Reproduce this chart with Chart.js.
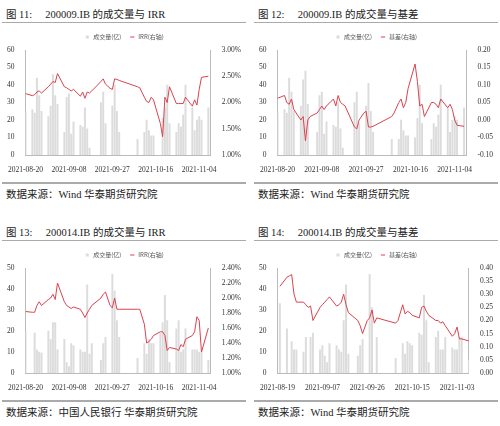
<!DOCTYPE html>
<html><head><meta charset="utf-8">
<script src="https://cdn.jsdelivr.net/npm/chart.js@4"></script>
<style>
body{margin:0;width:500px;height:426px;background:#fff;position:relative;font-family:"Liberation Serif","Noto Sans CJK SC",serif;overflow:hidden}
.cell{position:absolute;width:244px;height:205px}
.title{position:absolute;left:4px;top:6px;font-size:10.5px;color:#222;white-space:pre}
.rule1{position:absolute;left:0;right:0;top:22px;border-top:1.5px solid #aaa}
.rule2{position:absolute;left:0;right:0;top:182px;border-top:2px solid #aaa}
.src{position:absolute;left:4px;top:186px;font-size:10.5px;color:#222}
.cv{position:absolute;left:0;top:26px;width:244px;height:152px}
</style></head><body>
<div class="cell" style="left:2px;top:0"><div class="title">图 11:     200009.IB 的成交量与 IRR</div><div class="rule1"></div><div class="cv"><canvas id="c11"></canvas></div><div class="rule2"></div><div class="src">数据来源：Wind 华泰期货研究院</div></div>
<div class="cell" style="left:254px;top:0"><div class="title">图 12:     200009.IB 的成交量与基差</div><div class="rule1"></div><div class="cv"><canvas id="c12"></canvas></div><div class="rule2"></div><div class="src">数据来源：Wind 华泰期货研究院</div></div>
<div class="cell" style="left:2px;top:218px"><div class="title">图 13:     200014.IB 的成交量与 IRR</div><div class="rule1"></div><div class="cv"><canvas id="c13"></canvas></div><div class="rule2"></div><div class="src">数据来源：中国人民银行 华泰期货研究院</div></div>
<div class="cell" style="left:254px;top:218px"><div class="title">图 14:     200014.IB 的成交量与基差</div><div class="rule1"></div><div class="cv"><canvas id="c14"></canvas></div><div class="rule2"></div><div class="src">数据来源：Wind 华泰期货研究院</div></div>
<script>
// trading days (2021)
var dates = ['08-20','08-23','08-24','08-25','08-26','08-27','08-30','08-31','09-01','09-02','09-03',
  '09-06','09-07','09-08','09-09','09-10','09-13','09-14','09-15','09-16','09-17','09-18',
  '09-22','09-23','09-24','09-26','09-27','09-28','09-29','09-30',
  '10-08','10-09','10-11','10-12','10-13','10-14','10-15','10-18','10-19','10-20','10-21','10-22',
  '10-25','10-26','10-27','10-28','10-29','11-01','11-02','11-03','11-04','11-05','11-08'];

// 200009.IB volume (亿)
var vol09 = [24,26,24,44,34,25,22,28,46,34,29,
  13,33,35,12,19,17,16,27,15,4,null,
  30,36,18,null,28,40,25,13,
  9,null,13,20,14,11,11,null,21,27,40,18,
  13,18,16,23,40,27,14,20,22,20,27];
var irr11 = [2.17,2.13,2.15,2.2,2.22,2.18,2.3,2.35,2.4,2.38,2.55,
  2.3,2.28,2.25,2.22,2.25,2.12,2.2,2.08,2.2,2.18,2.22,
  2.4,2.45,2.35,2.27,2.25,2.45,2.44,2.42,
  2.3,2.28,2.1,2.02,2.0,2.1,2.05,1.6,1.35,2.1,2.0,2.3,
  1.98,1.98,1.98,1.98,2.1,1.93,2.05,1.95,2.25,2.48,2.5];
var vol09b = [24,26,24,44,36,25,28,43,48,29,null,
  13,34,36,12,19,17,16,30,15,4,null,
  30,36,18,null,28,41,25,13,
  9,null,9,20,14,11,11,10,21,40,18,null,
  9,18,16,23,40,27,13,20,22,20,27];
var basis12 = [0.062,0.07,0.05,0.045,0.06,0.03,0.0,0.01,-0.06,0.0,0.01,
  0.02,0.03,0.04,0.03,0.04,0.06,0.04,0.07,0.05,0.045,0.04,
  -0.02,-0.025,0.0,0.02,0.025,-0.02,-0.02,-0.018,
  0.01,0.02,0.05,0.06,0.035,0.05,0.09,0.16,0.11,0.04,0.045,0.01,
  0.05,0.05,0.045,0.035,0.06,0.035,0.045,0.03,0.0,-0.015,-0.018];

// 200014.IB volume (亿)
var vol14 = [20,null,19,11,10,9.5,20,16,24,24,11,
  16,5,3,14,13,11,10,10,42,9,14,
  6,14,17,null,47,39,25,17,
  7,null,14,9,16,14,14,19,24,37,25,5,
  21,25,10,11,21,11,11,11,10,10,6];
var irr13 = [1.82,1.81,1.81,1.9,1.95,1.9,1.98,2.0,2.05,1.98,2.2,
  1.95,1.9,1.88,1.86,1.88,1.85,1.8,1.74,1.8,1.85,1.9,
  2.0,2.05,2.08,1.9,1.87,2.0,1.85,1.85,
  1.85,1.85,1.65,1.4,1.42,1.45,1.5,1.55,1.55,1.5,1.3,1.34,
  1.32,1.3,1.38,1.35,1.45,1.5,1.55,1.75,1.7,1.28,1.6];
var vol14b = [33,21,null,15,11,11,10,17,null,17,19,
  11,13,8,5,14,13,11,10,25,42,9,
  8,13,16,null,47,31,null,17,
  7,null,14,9,15,14,13,19,18,37,25,5,
  17,20,11,11,17,12,11,11,17,17,6];
var basis14 = [0.33,0.365,0.37,0.375,0.3,0.27,0.27,0.26,0.25,0.255,0.2,
  0.25,0.26,0.27,0.28,0.29,0.255,0.26,0.27,0.3,0.26,0.23,
  0.2,0.18,0.15,0.2,0.21,0.24,0.19,0.21,
  0.19,0.2,0.26,0.225,0.235,0.23,0.22,0.21,0.25,0.255,0.235,0.22,
  0.2,0.2,0.19,0.195,0.18,0.14,0.15,0.175,0.13,0.13,0.122];

function dayOf(md) {
  var p = md.split('-');
  return (Date.UTC(2021, +p[0] - 1, +p[1]) - Date.UTC(2021, 7, 20)) / 86400000;
}
function labelOf(d) {
  var t = new Date(Date.UTC(2021, 7, 20) + d * 86400000);
  var m = ('0' + (t.getUTCMonth() + 1)).slice(-2), dd = ('0' + t.getUTCDate()).slice(-2);
  return '2021-' + m + '-' + dd;
}
function pts(vals) {
  var out = [];
  for (var i = 0; i < dates.length; i++) {
    if (vals[i] !== null) out.push({x: dayOf(dates[i]), y: vals[i]});
  }
  return out;
}

var tickFont = {family: 'Liberation Serif', size: 7.5};
var axisCol = '#bbb';

function makeChart(id, vol, line, lineName, left, right, fmt, xFirst) {
  new Chart(document.getElementById(id), {
    data: {
      datasets: [
        {type: 'bar', label: '成交量(亿)', data: pts(vol), backgroundColor: '#dcdcdc',
         barThickness: 1.3, yAxisID: 'y', pointStyle: 'rect', order: 2},
        {type: 'line', label: lineName, data: pts(line), borderColor: '#d9434f', borderWidth: 1,
         pointRadius: 0, tension: 0, yAxisID: 'y1', pointStyle: 'line', order: 1}
      ]
    },
    options: {
      responsive: true, maintainAspectRatio: false, animation: false,
      layout: {padding: {left: 2, right: 2, top: 0, bottom: 0}},
      plugins: {
        legend: {labels: {usePointStyle: true, boxWidth: 14, boxHeight: 3, padding: 8,
          sort: function(a, b) { return a.datasetIndex - b.datasetIndex; },
          font: {family: 'Noto Sans CJK SC', size: 6}, color: '#555'}},
        tooltip: {enabled: false}
      },
      scales: {
        x: {type: 'linear', min: xFirst, max: xFirst + 81, offset: false,
            afterBuildTicks: function(ax) {
              ax.ticks = [0, 1, 2, 3, 4].map(function(k) { return {value: xFirst + 19 * k}; });
            },
            ticks: {font: tickFont, color: '#333', maxRotation: 0, autoSkip: false,
              callback: function(v) { return labelOf(v); }},
            grid: {display: false}, border: {color: axisCol}},
        y: {position: 'left', min: left[0], max: left[1],
            ticks: {stepSize: left[2], font: tickFont, color: '#333'},
            grid: {display: false}, border: {color: axisCol}},
        y1: {position: 'right', min: right[0], max: right[1],
            ticks: {stepSize: right[2], font: tickFont, color: '#333', callback: fmt},
            grid: {display: false}, border: {color: axisCol}}
      }
    }
  });
}

var pct = function(v) { return v.toFixed(2) + '%'; };
var dec = function(v) { return v.toFixed(2); };
makeChart('c11', vol09, irr11, 'IRR(右轴)', [0, 60, 10], [1.0, 3.0, 0.5], pct, 0);
makeChart('c12', vol09b, basis12, '基差(右轴)', [0, 60, 10], [-0.1, 0.2, 0.05], dec, 0);
makeChart('c13', vol14, irr13, 'IRR(右轴)', [0, 50, 5], [1.0, 2.4, 0.2], pct, 0);
makeChart('c14', vol14b, basis14, '基差(右轴)', [0, 50, 5], [0, 0.4, 0.05], dec, -1);
</script>
</body></html>
